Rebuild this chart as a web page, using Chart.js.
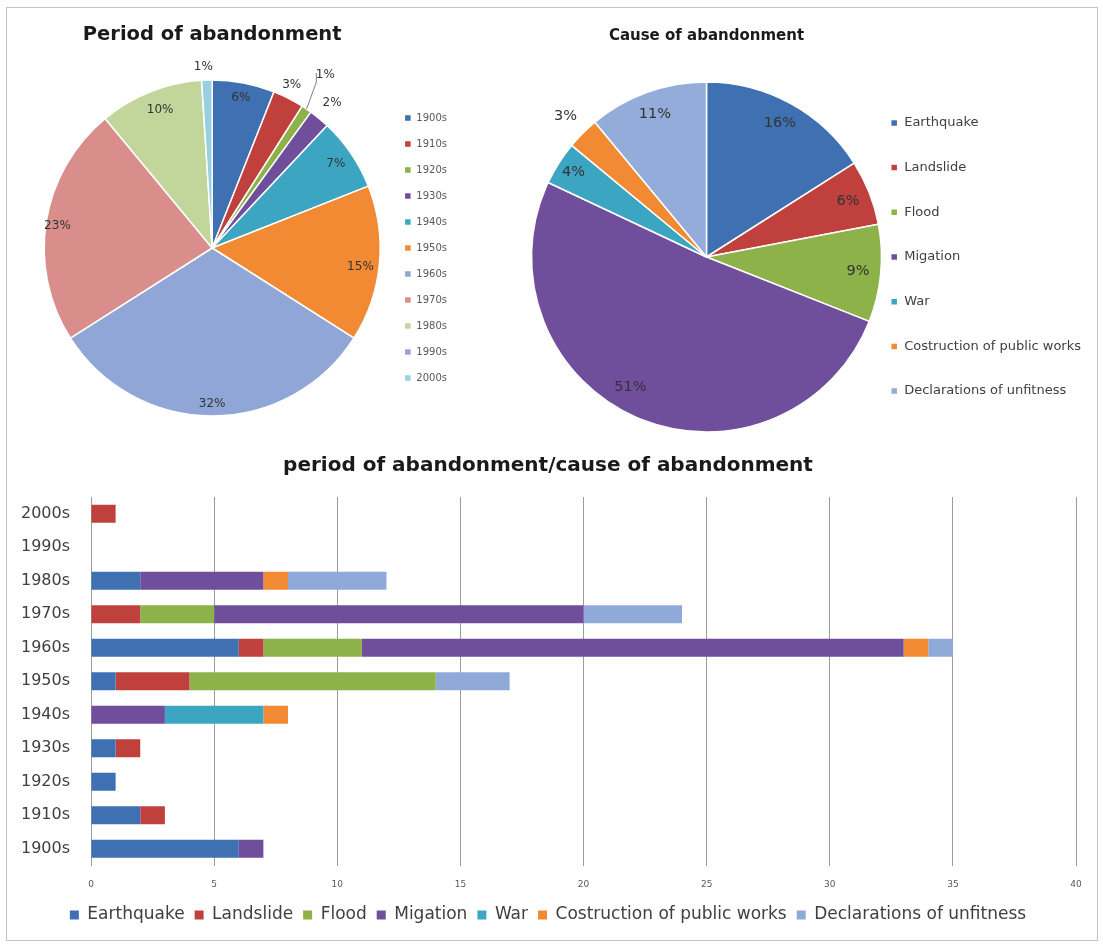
<!DOCTYPE html>
<html>
<head>
<meta charset="utf-8">
<script src="https://cdn.jsdelivr.net/npm/chart.js@4.4.1/dist/chart.umd.min.js"></script>
<style>
  html, body { margin: 0; padding: 0; background: #fff; width: 1103px; height: 945px; overflow: hidden; }
  #frame { position: absolute; left: 6px; top: 7px; width: 1092px; height: 934px; border: 1px solid #c4c4c4; box-sizing: border-box; }
  .wrap { position: absolute; }
</style>
</head>
<body>
<div id="frame"></div>
<div class="wrap" style="left:0px;top:0px;width:480px;height:440px;"><canvas id="pie1" width="480" height="440"></canvas></div>
<div class="wrap" style="left:480px;top:0px;width:623px;height:440px;"><canvas id="pie2" width="623" height="440"></canvas></div>
<div class="wrap" style="left:6px;top:440px;width:1092px;height:500px;"><canvas id="bars" width="1092" height="500"></canvas></div>
<script>
// ---------------- data ----------------
const periods = ['1900s', '1910s', '1920s', '1930s', '1940s', '1950s', '1960s', '1970s', '1980s', '1990s', '2000s'];
const periodShare = [6, 3, 1, 2, 7, 15, 32, 23, 10, 0, 1];

const causes = ['Earthquake', 'Landslide', 'Flood', 'Migation', 'War', 'Costruction of public works', 'Declarations of unfitness'];
const causeShare = [16, 6, 9, 51, 4, 3, 11];

// counts per period (1900s .. 2000s) for each cause
const earthquake   = [6, 2, 1, 1, 0, 1, 6, 0, 2, 0, 0];
const landslide    = [0, 1, 0, 1, 0, 3, 1, 2, 0, 0, 1];
const flood        = [0, 0, 0, 0, 0, 10, 4, 3, 0, 0, 0];
const migation     = [1, 0, 0, 0, 3, 0, 22, 15, 5, 0, 0];
const war          = [0, 0, 0, 0, 4, 0, 0, 0, 0, 0, 0];
const construction = [0, 0, 0, 0, 1, 0, 1, 0, 1, 0, 0];
const declarations = [0, 0, 0, 0, 0, 3, 1, 4, 4, 0, 0];

const xTickLabels = ['0', '5', '10', '15', '20', '25', '30', '35', '40'];

// ---------------- styles ----------------
Chart.defaults.font.family = "'DejaVu Sans', sans-serif";
Chart.defaults.animation = false;

const periodColors = ['#3F70B2', '#C0403E', '#8DB24A', '#6F4E9C', '#3CA6C2', '#F28A33',
                      '#8FA6D7', '#D98E8C', '#C2D69C', '#A99AC6', '#98D0E2'];
const causeColors = ['#3F70B2', '#C0403E', '#8DB24A', '#6F4E9C', '#3CA6C2', '#F28A33', '#93ACDA'];

const pieLabels = {
  id: 'pieLabels',
  afterDatasetsDraw(chart, args, opts) {
    const ctx = chart.ctx;
    const meta = chart.getDatasetMeta(0);
    const data = chart.data.datasets[0].data;
    const total = data.reduce((a, b) => a + b, 0);
    ctx.save();
    ctx.font = opts.font;
    ctx.fillStyle = opts.color;
    ctx.textAlign = 'center';
    ctx.textBaseline = 'middle';
    meta.data.forEach((arc, i) => {
      if (!data[i]) return;
      const p = arc.getProps(['x', 'y', 'startAngle', 'endAngle', 'outerRadius'], true);
      const pl = (opts.place && opts.place[i]) || {};
      const rf = pl.r !== undefined ? pl.r : opts.r;
      const mid = (p.startAngle + p.endAngle) / 2;
      const ang = mid + (pl.da || 0) * Math.PI / 180;
      const lx = p.x + Math.cos(ang) * p.outerRadius * rf;
      const ly = p.y + Math.sin(ang) * p.outerRadius * rf;
      if (pl.leader) {
        ctx.strokeStyle = '#7f7f7f';
        ctx.lineWidth = 1;
        ctx.beginPath();
        ctx.moveTo(p.x + Math.cos(mid) * p.outerRadius * 1.0, p.y + Math.sin(mid) * p.outerRadius * 1.0);
        ctx.lineTo(lx - 9, ly + 7);
        ctx.lineTo(lx - 9, ly - 2);
        ctx.stroke();
      }
      ctx.fillText(Math.round(data[i] / total * 100) + '%', lx, ly);
    });
    ctx.restore();
  }
};

// ---------------- pie 1 ----------------
new Chart(document.getElementById('pie1'), {
  type: 'pie',
  data: {
    labels: periods,
    datasets: [{
      data: periodShare,
      backgroundColor: periodColors,
      borderColor: '#ffffff',
      borderWidth: 1.5,
      radius: 168
    }]
  },
  options: {
    responsive: false,
    layout: { padding: { left: 36, right: 23, top: 0, bottom: 24 } },
    plugins: {
      title: {
        display: true, text: 'Period of abandonment', fullSize: false,
        font: { size: 19.5, weight: 'bold' }, color: '#1a1a1a',
        padding: { top: 23, bottom: 33.6 }
      },
      legend: {
        position: 'right', fullSize: false,
        labels: { boxWidth: 7, boxHeight: 7, padding: 16, color: '#595959', font: { size: 10 } }
      },
      tooltip: { enabled: false },
      pieLabels: {
        font: "12px 'DejaVu Sans'", color: '#333333', r: 0.9,
        place: {
          0: { r: 0.91 }, 1: { r: 1.08, da: -1 }, 2: { r: 1.23, da: -1, leader: true },
          3: { r: 1.12 }, 4: { r: 0.89 }, 5: { r: 0.89, da: 2 }, 6: { r: 0.93 },
          7: { r: 0.93, da: -1 }, 8: { r: 0.88, da: 1 }, 10: { r: 1.08, da: -1 }
        }
      }
    }
  },
  plugins: [pieLabels]
});

// ---------------- pie 2 ----------------
new Chart(document.getElementById('pie2'), {
  type: 'pie',
  data: {
    labels: causes,
    datasets: [{
      data: causeShare,
      backgroundColor: causeColors,
      borderColor: '#ffffff',
      borderWidth: 1.5,
      radius: 175
    }]
  },
  options: {
    responsive: false,
    layout: { padding: { left: 74, right: 12, top: 0, bottom: 8 } },
    plugins: {
      title: {
        display: true, text: 'Cause of abandonment', fullSize: false,
        font: { size: 15, weight: 'bold' }, color: '#1a1a1a',
        padding: { top: 27, bottom: 37 }
      },
      legend: {
        position: 'right', fullSize: false,
        labels: { boxWidth: 7, boxHeight: 7, padding: 31.7, color: '#404040', font: { size: 13 } }
      },
      tooltip: { enabled: false },
      pieLabels: {
        font: "14.5px 'DejaVu Sans'", color: '#333333', r: 0.87,
        place: { 3: { r: 0.86, da: 7 }, 4: { r: 0.9 }, 5: { r: 1.14 } }
      }
    }
  },
  plugins: [pieLabels]
});

// ---------------- stacked bars ----------------
const seriesDefs = [
  [causes[0], earthquake, causeColors[0]],
  [causes[1], landslide, causeColors[1]],
  [causes[2], flood, causeColors[2]],
  [causes[3], migation, causeColors[3]],
  [causes[4], war, causeColors[4]],
  [causes[5], construction, causeColors[5]],
  [causes[6], declarations, '#8FAAD9']
];

new Chart(document.getElementById('bars'), {
  type: 'bar',
  data: {
    labels: periods,
    datasets: seriesDefs.map(([label, values, color]) => ({
      label, data: values, backgroundColor: color, borderWidth: 0,
      categoryPercentage: 1.0, barPercentage: 0.54
    }))
  },
  options: {
    responsive: false,
    indexAxis: 'y',
    layout: { padding: { left: 14, right: 22, top: 0, bottom: 6.5 } },
    scales: {
      x: {
        stacked: true, min: 0, max: 40,
        afterFit: (scale) => { scale.height = 31; },
        ticks: {
          stepSize: 5, padding: 13.6, color: '#595959', font: { size: 9 },
          callback: (v) => xTickLabels[v / 5]
        },
        grid: { color: '#9c9c9c', drawTicks: false },
        border: { display: false }
      },
      y: {
        stacked: true, reverse: true,
        afterFit: (scale) => { scale.width = 71; },
        ticks: { color: '#404040', font: { size: 16 }, padding: 21 },
        grid: { display: false, drawTicks: false },
        border: { display: true, color: '#9c9c9c' }
      }
    },
    plugins: {
      title: {
        display: true, text: 'period of abandonment/cause of abandonment',
        font: { size: 20, weight: 'bold' }, color: '#1a1a1a',
        padding: { top: 14, bottom: 19 }
      },
      legend: {
        position: 'bottom',
        labels: { boxWidth: 9, boxHeight: 9, padding: 10, color: '#404040', font: { size: 17 } }
      },
      tooltip: { enabled: false }
    }
  }
});
</script>
</body>
</html>
